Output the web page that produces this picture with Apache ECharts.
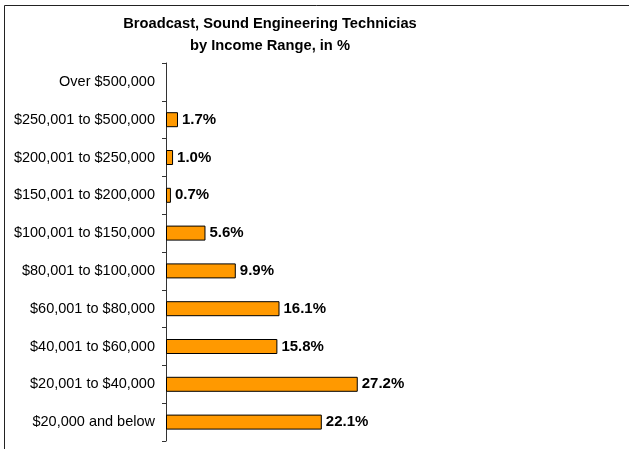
<!DOCTYPE html>
<html>
<head>
<meta charset="utf-8">
<script src="https://cdn.jsdelivr.net/npm/echarts@6/dist/echarts.min.js"></script>
<style>
  html, body { margin: 0; padding: 0; background: #fff; }
  #chart { width: 629px; height: 449px; }
</style>
</head>
<body>
<div id="chart"></div>
<script>
// Income ranges, listed from the lowest bracket up (category axis runs bottom to top)
const incomeRanges = [
  '$20,000 and below',
  '$20,001 to $40,000',
  '$40,001 to $60,000',
  '$60,001 to $80,000',
  '$80,001 to $100,000',
  '$100,001 to $150,000',
  '$150,001 to $200,000',
  '$200,001 to $250,000',
  '$250,001 to $500,000',
  'Over $500,000'
];
// Share of workers in each range, in percent (null = no bar drawn)
const sharePercent = [22.1, 27.2, 15.8, 16.1, 9.9, 5.6, 0.7, 1.0, 1.7, null];

const titleLines = ['Broadcast, Sound Engineering Technicias', 'by Income Range, in %'];

const chart = echarts.init(document.getElementById('chart'), null, { renderer: 'canvas' });

chart.setOption({
  animation: false,
  backgroundColor: '#ffffff',
  textStyle: { fontFamily: 'Liberation Sans, Arial, sans-serif' },
  title: {
    text: titleLines.join('\n'),
    left: 265,
    top: 8,
    textAlign: 'center',
    textStyle: {
      fontFamily: 'Liberation Sans, Arial, sans-serif',
      fontSize: 14.7,
      fontWeight: 'bold',
      color: '#000',
      lineHeight: 22
    }
  },
  graphic: [
    // frame edges along the top and left
    { type: 'line', shape: { x1: 4.5, y1: 5.5, x2: 629, y2: 5.5 }, style: { stroke: '#222', lineWidth: 1 } },
    { type: 'line', shape: { x1: 4.5, y1: 5.5, x2: 4.5, y2: 449 }, style: { stroke: '#222', lineWidth: 1 } }
  ],
  grid: { left: 166, top: 63, width: 282, height: 378 },
  xAxis: {
    type: 'value',
    min: 0,
    max: 40,
    show: false
  },
  yAxis: {
    type: 'category',
    data: incomeRanges,
    axisLine: { show: true, lineStyle: { color: '#333', width: 1 } },
    axisTick: { show: true, length: 4, lineStyle: { color: '#333' } },
    axisLabel: {
      color: '#000',
      fontSize: 14.5,
      margin: 11,
      fontFamily: 'Liberation Sans, Arial, sans-serif'
    },
    splitLine: { show: false }
  },
  series: [{
    type: 'bar',
    data: sharePercent,
    barWidth: 15,
    itemStyle: { color: '#FF9900', borderColor: '#000', borderWidth: 1 },
    label: {
      show: true,
      position: 'right',
      distance: 4,
      color: '#000',
      fontSize: 15,
      fontWeight: 'bold',
      fontFamily: 'Liberation Sans, Arial, sans-serif',
      formatter: p => p.value == null ? '' : p.value.toFixed(1) + '%'
    }
  }]
});
</script>
</body>
</html>
